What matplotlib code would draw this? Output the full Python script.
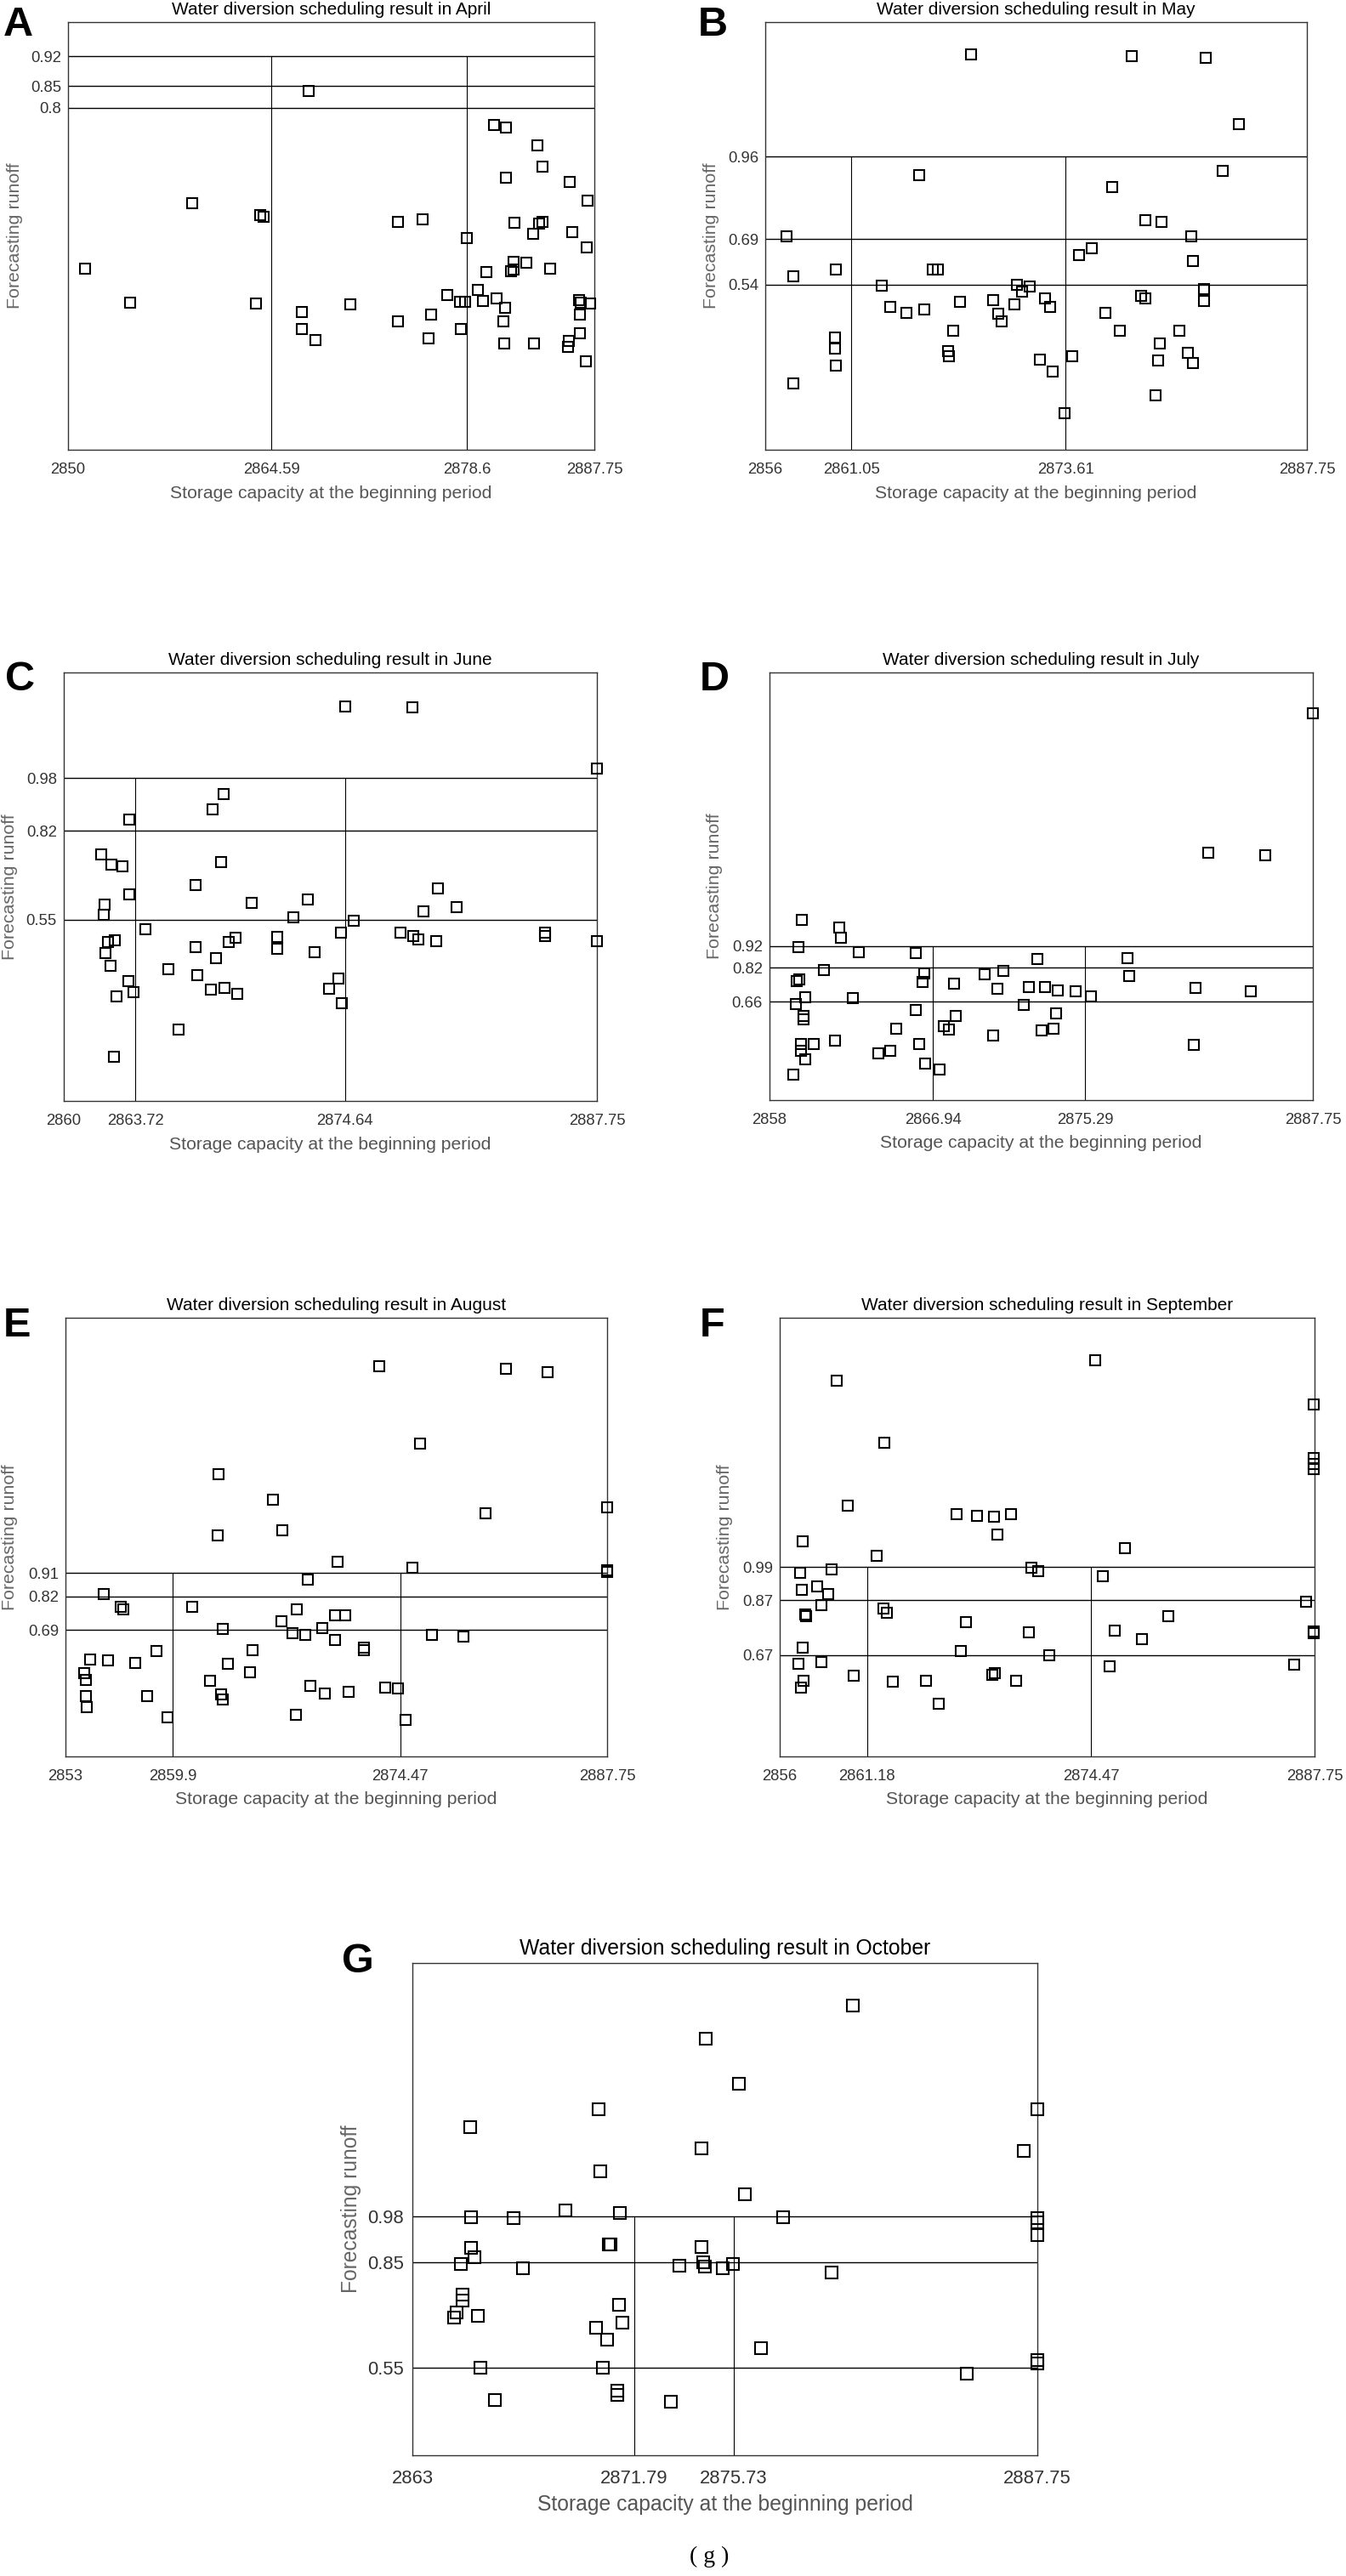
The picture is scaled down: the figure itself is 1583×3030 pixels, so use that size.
import matplotlib
matplotlib.use("Agg")
import matplotlib.pyplot as plt

W, H = 1583, 3030

FONT = ["Liberation Sans", "DejaVu Sans"]

# ---- data (x = storage capacity, y = forecasting runoff) ----
apr_x = [2867.25, 2880.58, 2881.42, 2883.66, 2884.00, 2881.42, 2885.96, 2858.88, 2887.27, 2863.81,
         2864.00, 2873.69, 2875.46, 2882.01, 2883.80, 2884.00, 2883.35, 2886.15, 2878.62, 2887.19,
         2851.20, 2881.95, 2882.90, 2880.02, 2881.76, 2881.98, 2884.58, 2877.19, 2879.40, 2880.75,
         2878.14, 2878.51, 2879.77, 2854.45, 2863.50, 2870.27, 2886.63, 2886.80, 2887.47, 2866.75,
         2881.34, 2876.02, 2886.74, 2873.64, 2881.25, 2866.75, 2878.17, 2867.73, 2875.85, 2886.74,
         2881.28, 2883.41, 2885.93, 2885.87, 2887.11]
apr_y = [0.839, 0.760, 0.753, 0.712, 0.663, 0.636, 0.626, 0.577, 0.582, 0.549,
         0.545, 0.533, 0.538, 0.530, 0.529, 0.532, 0.504, 0.509, 0.496, 0.474,
         0.423, 0.440, 0.438, 0.416, 0.418, 0.421, 0.423, 0.362, 0.373, 0.353,
         0.346, 0.346, 0.347, 0.344, 0.342, 0.340, 0.349, 0.343, 0.342, 0.323,
         0.333, 0.316, 0.316, 0.301, 0.301, 0.282, 0.282, 0.257, 0.260, 0.272,
         0.249, 0.249, 0.255, 0.240, 0.207]

may_x = [2868.06, 2877.48, 2881.82, 2883.77, 2882.82, 2865.04, 2876.33, 2878.27, 2879.24, 2857.23,
         2880.98, 2875.13, 2874.39, 2881.08, 2860.14, 2865.83, 2866.14, 2857.66, 2862.85, 2870.74,
         2871.50, 2871.04, 2881.70, 2878.04, 2878.27, 2872.42, 2867.39, 2869.36, 2881.70, 2863.33,
         2872.68, 2870.58, 2865.32, 2864.25, 2869.64, 2875.95, 2869.84, 2867.01, 2876.77, 2880.27,
         2860.11, 2860.11, 2879.12, 2866.73, 2866.78, 2873.98, 2880.78, 2872.09, 2879.04, 2881.08,
         2860.14, 2872.83, 2857.66, 2878.89, 2873.55]
may_y = [1.295, 1.289, 1.284, 1.065, 0.912, 0.899, 0.860, 0.751, 0.745, 0.699,
         0.699, 0.659, 0.638, 0.619, 0.589, 0.589, 0.591, 0.568, 0.538, 0.541,
         0.534, 0.517, 0.527, 0.505, 0.495, 0.496, 0.485, 0.489, 0.486, 0.468,
         0.468, 0.475, 0.458, 0.449, 0.445, 0.449, 0.421, 0.391, 0.391, 0.391,
         0.368, 0.332, 0.349, 0.324, 0.306, 0.306, 0.317, 0.295, 0.291, 0.283,
         0.275, 0.255, 0.218, 0.178, 0.120]

jun_x = [2874.63, 2878.14, 2887.75, 2868.32, 2867.74, 2863.39, 2861.95, 2862.47, 2863.05, 2868.19,
         2879.49, 2866.88, 2863.43, 2869.78, 2872.70, 2862.12, 2862.06, 2878.70, 2880.44, 2871.97,
         2875.10, 2864.25, 2874.43, 2877.52, 2878.19, 2878.44, 2879.37, 2885.07, 2885.07, 2887.75,
         2862.64, 2862.32, 2868.94, 2868.60, 2871.11, 2871.11, 2866.84, 2873.06, 2862.17, 2867.91,
         2862.42, 2865.45, 2866.93, 2874.30, 2863.37, 2863.65, 2862.74, 2867.66, 2868.38, 2869.05,
         2873.83, 2874.48, 2865.96, 2862.59]
jun_y = [1.197, 1.193, 1.009, 0.930, 0.886, 0.855, 0.749, 0.718, 0.712, 0.724,
         0.645, 0.654, 0.626, 0.601, 0.611, 0.595, 0.566, 0.575, 0.588, 0.556,
         0.546, 0.521, 0.512, 0.512, 0.501, 0.489, 0.486, 0.510, 0.500, 0.486,
         0.488, 0.482, 0.496, 0.483, 0.498, 0.462, 0.467, 0.451, 0.448, 0.433,
         0.411, 0.401, 0.382, 0.372, 0.363, 0.331, 0.318, 0.337, 0.344, 0.325,
         0.340, 0.296, 0.217, 0.135]

jul_x = [2887.73, 2882.03, 2885.13, 2859.76, 2861.84, 2861.91, 2859.60, 2862.91, 2865.99, 2872.68,
         2877.59, 2860.98, 2870.78, 2866.49, 2869.80, 2877.71, 2859.62, 2859.50, 2866.37, 2868.11,
         2881.34, 2872.21, 2873.09, 2870.47, 2873.80, 2874.78, 2884.34, 2875.62, 2862.58, 2859.95,
         2859.45, 2871.92, 2865.99, 2873.71, 2868.20, 2859.86, 2859.86, 2864.94, 2867.54, 2867.82,
         2872.92, 2873.54, 2870.25, 2861.58, 2859.72, 2860.43, 2866.20, 2859.74, 2881.24, 2864.60,
         2863.94, 2859.95, 2866.53, 2867.30, 2859.31]
jul_y = [2.011, 1.356, 1.346, 1.041, 1.006, 0.960, 0.915, 0.890, 0.886, 0.861,
         0.866, 0.807, 0.804, 0.792, 0.787, 0.779, 0.764, 0.757, 0.751, 0.745,
         0.725, 0.730, 0.730, 0.720, 0.714, 0.710, 0.710, 0.686, 0.678, 0.681,
         0.650, 0.644, 0.620, 0.605, 0.595, 0.593, 0.576, 0.535, 0.546, 0.529,
         0.525, 0.535, 0.501, 0.479, 0.462, 0.461, 0.461, 0.432, 0.457, 0.430,
         0.420, 0.390, 0.370, 0.344, 0.320]

aug_x = [2873.12, 2881.25, 2883.95, 2875.74, 2862.82, 2866.31, 2887.75, 2879.93, 2866.89, 2862.74,
         2870.43, 2875.26, 2887.75, 2887.75, 2868.55, 2855.48, 2861.13, 2856.54, 2856.72, 2867.84,
         2870.27, 2870.93, 2866.84, 2869.45, 2863.11, 2867.55, 2868.37, 2876.53, 2878.53, 2870.30,
         2872.17, 2872.17, 2858.86, 2864.99, 2854.56, 2855.75, 2857.46, 2863.43, 2854.19, 2864.86,
         2854.29, 2862.27, 2868.71, 2873.49, 2874.34, 2871.14, 2869.64, 2862.98, 2863.11, 2854.29,
         2858.25, 2854.35, 2859.52, 2867.76, 2874.81]
aug_y = [1.712, 1.701, 1.688, 1.413, 1.293, 1.194, 1.166, 1.143, 1.076, 1.056,
         0.954, 0.933, 0.920, 0.914, 0.885, 0.830, 0.781, 0.780, 0.769, 0.770,
         0.747, 0.747, 0.723, 0.699, 0.695, 0.679, 0.670, 0.670, 0.666, 0.651,
         0.623, 0.613, 0.608, 0.613, 0.576, 0.573, 0.564, 0.558, 0.524, 0.525,
         0.496, 0.494, 0.472, 0.466, 0.463, 0.450, 0.444, 0.442, 0.422, 0.435,
         0.435, 0.390, 0.352, 0.361, 0.341]

sep_x = [2874.73, 2859.38, 2887.72, 2862.23, 2887.72, 2887.72, 2887.72, 2860.06, 2866.51, 2867.73,
         2868.71, 2869.72, 2868.94, 2857.37, 2876.49, 2861.76, 2870.93, 2871.35, 2859.07, 2857.19,
         2875.19, 2858.22, 2857.32, 2858.89, 2887.23, 2858.48, 2862.15, 2862.36, 2857.50, 2857.55,
         2879.07, 2867.06, 2875.87, 2870.78, 2887.72, 2887.72, 2877.52, 2857.37, 2866.75, 2872.02,
         2857.09, 2858.48, 2875.56, 2886.56, 2860.37, 2868.79, 2868.61, 2857.42, 2862.69, 2864.68,
         2870.05, 2857.27, 2865.46]
sep_y = [1.744, 1.670, 1.583, 1.445, 1.388, 1.368, 1.348, 1.216, 1.183, 1.176,
         1.173, 1.183, 1.110, 1.086, 1.059, 1.031, 0.989, 0.977, 0.982, 0.969,
         0.957, 0.920, 0.907, 0.893, 0.864, 0.852, 0.840, 0.823, 0.817, 0.811,
         0.811, 0.790, 0.759, 0.753, 0.755, 0.750, 0.729, 0.696, 0.685, 0.669,
         0.637, 0.645, 0.630, 0.634, 0.594, 0.604, 0.598, 0.575, 0.572, 0.576,
         0.575, 0.552, 0.492]

oct_x = [2880.43, 2874.61, 2875.93, 2870.36, 2887.75, 2865.29, 2874.46, 2887.22, 2870.45, 2876.18,
         2869.05, 2871.21, 2865.34, 2867.01, 2877.69, 2887.75, 2887.75, 2887.75, 2870.79, 2870.83,
         2865.31, 2874.46, 2865.46, 2864.93, 2873.57, 2874.50, 2874.57, 2875.29, 2875.69, 2867.39,
         2879.60, 2864.99, 2864.99, 2871.17, 2864.76, 2864.66, 2865.59, 2871.32, 2870.28, 2870.71,
         2876.82, 2887.75, 2887.75, 2865.70, 2870.53, 2884.95, 2871.13, 2871.13, 2866.27, 2873.25]
oct_y = [1.580, 1.486, 1.357, 1.285, 1.285, 1.234, 1.172, 1.166, 1.107, 1.042,
         0.997, 0.988, 0.977, 0.974, 0.977, 0.974, 0.962, 0.926, 0.900, 0.900,
         0.890, 0.893, 0.864, 0.844, 0.839, 0.850, 0.837, 0.832, 0.844, 0.831,
         0.820, 0.756, 0.739, 0.729, 0.707, 0.692, 0.696, 0.677, 0.663, 0.628,
         0.604, 0.571, 0.562, 0.550, 0.550, 0.531, 0.483, 0.471, 0.456, 0.453]

# division thresholds (x: storage, y: runoff) and axis limits
months = ["April", "May", "June", "July", "August", "September", "October"]
letters = ["A", "B", "C", "D", "E", "F", "G"]
xs_all = [apr_x, may_x, jun_x, jul_x, aug_x, sep_x, oct_x]
ys_all = [apr_y, may_y, jun_y, jul_y, aug_y, sep_y, oct_y]
x_split = [["2864.59", "2878.6"], ["2861.05", "2873.61"], ["2863.72", "2874.64"], ["2866.94", "2875.29"],
           ["2859.9", "2874.47"], ["2861.18", "2874.47"], ["2871.79", "2875.73"]]
y_split = [["0.8", "0.85", "0.92"], ["0.54", "0.69", "0.96"], ["0.55", "0.82", "0.98"], ["0.66", "0.82", "0.92"],
           ["0.69", "0.82", "0.91"], ["0.67", "0.87", "0.99"], ["0.55", "0.85", "0.98"]]
x_min = ["2850", "2856", "2860", "2858", "2853", "2856", "2863"]
x_max = "2887.75"
y_lims = [(0, 1.0), (0, 1.4), (0, 1.3), (0.2, 2.2), (0.2, 1.9), (0.3, 1.9), (0.3, 1.7)]

# layout in pixels: axes box (left, top, right, bottom), letter pos, ylabel x
boxes = [(80, 26, 699, 529), (900, 26, 1537, 529),
         (75, 791, 702, 1295), (905, 791, 1544, 1294),
         (77, 1550, 714, 2066), (917, 1550, 1546, 2066),
         (485, 2309, 1220, 2888)]
letter_pos = [(4, 30), (821, 30), (6, 800), (823, 800), (4, 1560), (823, 1560), (402, 2307)]
ylab_x = [18, 836, 12, 841, 12, 852, 413]


def fx(px):
    return px / W


def fy(py):
    return 1 - py / H


fig = plt.figure(figsize=(W / 100, H / 100), dpi=100)

for i in range(7):
    big = (i == 6)
    l, t, r, b = boxes[i]
    ax = fig.add_axes([fx(l), fy(b), (r - l) / W, (b - t) / H])

    xmin, xmax = float(x_min[i]), float(x_max)
    ax.set_xlim(xmin, xmax)
    ax.set_ylim(*y_lims[i])

    yv = [float(v) for v in y_split[i]]
    xv = [float(v) for v in x_split[i]]
    for v in yv:
        ax.axhline(v, color="black", lw=1.0, zorder=1)
    ax.vlines(xv, y_lims[i][0], max(yv), color="black", lw=0.8, zorder=1)

    ax.plot(xs_all[i], ys_all[i], ls="none", marker="s", mfc="none", mec="black",
            ms=10.5 if big else 9.3, mew=1.5, clip_on=False, zorder=3)

    for s in ax.spines.values():
        s.set_color("#333333")
        s.set_linewidth(1.0)

    tsize = 15.8 if big else 13.3
    ax.set_xticks([xmin] + xv + [xmax])
    ax.set_xticklabels([x_min[i]] + x_split[i] + [x_max], family=FONT, fontsize=tsize, color="#333333")
    ax.set_yticks(yv)
    ax.set_yticklabels(y_split[i], family=FONT, fontsize=tsize, color="#333333")
    ax.tick_params(axis="x", length=0, pad=12.3 if big else 11)
    ax.tick_params(axis="y", length=0, pad=7.2 if big else 5.8)

    cx = (l + r) / 2
    cy = (t + b) / 2
    fig.text(fx(cx), fy(t - (17.5 if big else 14.5)), "Water diversion scheduling result in " + months[i],
             ha="center", va="center", family=FONT, fontsize=17.8 if big else 15, color="black")
    fig.text(fx(cx), fy(b + (58 if big else 51)), "Storage capacity at the beginning period",
             ha="center", va="center", family=FONT, fontsize=17.8 if big else 15.2, color="#555555")
    fig.text(fx(ylab_x[i]), fy(cy), "Forecasting runoff", rotation=90,
             ha="center", va="center", family=FONT, fontsize=17.7 if big else 15.4, color="#666666")
    lx, ly = letter_pos[i]
    fig.text(fx(lx), fy(ly), letters[i], ha="left", va="center", family=FONT,
             fontweight="bold", fontsize=35, color="black")

fig.text(fx(834), fy(3007), "( g )", ha="center", va="center", family=["Liberation Serif", "DejaVu Serif"],
         fontsize=20, color="black")

fig.savefig("out.png", dpi=100)
